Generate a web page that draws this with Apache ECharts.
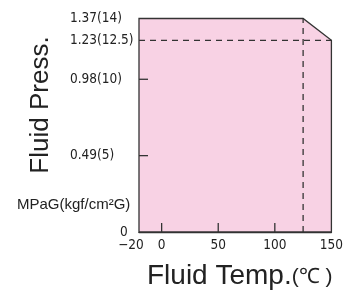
<!DOCTYPE html>
<html>
<head>
<meta charset="utf-8">
<script src="https://cdn.jsdelivr.net/npm/echarts@6/dist/echarts.min.js"></script>
<style>
  html, body { margin: 0; padding: 0; background: #fff; }
  #chart { width: 346px; height: 291px; }
</style>
</head>
<body>
<div id="chart"></div>
<script>
// operating range (temp in C, pressure in MPaG)
var envelope = [[-20, 0], [-20, 1.37], [125, 1.37], [150, 1.23], [150, 0]];
var ratedTemp = 125;
var ratedPress = 1.23;

var tempTicks = [-20, 0, 50, 100, 150];
var tempLabels = ['−20', '0', '50', '100', '150'];
var tempMarks = [0, 50, 100];
var pressTicks = [0, 0.49, 0.98, 1.23, 1.37];
var pressLabels = ['0', '0.49(5)', '0.98(10)', '1.23(12.5)', '1.37(14)'];
var pressMarks = [0.49, 0.98];

var tickFont = '"DejaVu Sans Condensed", "Liberation Sans Narrow", sans-serif';
var titleFont = '"Liberation Sans", Arial, sans-serif';
var ink = '#333';

var myChart = echarts.init(document.getElementById('chart'));

var option = {
  animation: false,
  grid: { left: 139, right: 14, top: 18.5, bottom: 59 },
  xAxis: {
    type: 'value',
    min: -20,
    max: 150,
    splitLine: { show: false },
    axisLine: { show: true, onZero: false, lineStyle: { color: ink, width: 1.3 } },
    axisTick: { show: false },
    axisLabel: {
      customValues: tempTicks,
      margin: 6,
      color: '#222',
      fontSize: 13.5,
      fontFamily: tickFont,
      formatter: function (v) {
        var t = tempLabels[tempTicks.indexOf(v)];
        return v === -20 ? '{neg|' + t + '}' : t;
      },
      rich: {
        neg: { padding: [0, 16, 0, 0], fontSize: 13.5, fontFamily: tickFont, color: '#222' }
      }
    }
  },
  yAxis: {
    type: 'value',
    min: 0,
    max: 1.37,
    splitLine: { show: false },
    axisLine: { show: false, onZero: false },
    axisTick: { show: false },
    axisLabel: {
      customValues: pressTicks,
      align: 'left',
      margin: 69,
      color: '#222',
      fontSize: 13.5,
      fontFamily: tickFont,
      formatter: function (v) {
        var t = pressLabels[pressTicks.indexOf(v)];
        return v === 0 ? '{z|' + t + '}' : t;
      },
      rich: {
        z: { padding: [0, 0, 0, 50], fontSize: 13.5, fontFamily: tickFont, color: '#222' }
      }
    }
  },
  series: [
    {
      type: 'custom',
      silent: true,
      z: 1,
      data: [0],
      renderItem: function (params, api) {
        var pts = envelope.map(function (p) { return api.coord(p); });
        return {
          type: 'polygon',
          shape: { points: pts },
          style: { fill: '#f8d2e4', stroke: ink, lineWidth: 1.3 }
        };
      }
    },
    {
      type: 'line',
      silent: true,
      symbol: 'none',
      z: 3,
      data: [[-20, ratedPress], [150, ratedPress]],
      lineStyle: { color: ink, width: 1.3, type: [6, 5] }
    },
    {
      type: 'line',
      silent: true,
      symbol: 'none',
      z: 3,
      data: [[ratedTemp, 0], [ratedTemp, 1.37]],
      lineStyle: { color: ink, width: 1.3, type: [6, 5] }
    },
    {
      // inward ticks on both axes
      type: 'custom',
      silent: true,
      z: 10,
      clip: false,
      data: [0],
      renderItem: function (params, api) {
        var kids = [];
        tempMarks.forEach(function (t) {
          var p = api.coord([t, 0]);
          kids.push({ type: 'line', shape: { x1: p[0], y1: p[1], x2: p[0], y2: p[1] - 9 }, style: { stroke: ink, lineWidth: 1.3 } });
        });
        pressMarks.forEach(function (v) {
          var p = api.coord([-20, v]);
          kids.push({ type: 'line', shape: { x1: p[0], y1: p[1], x2: p[0] + 9, y2: p[1] }, style: { stroke: ink, lineWidth: 1.3 } });
        });
        return { type: 'group', children: kids };
      }
    }
  ],
  graphic: [
    {
      type: 'text',
      left: 17,
      top: 197,
      style: {
        text: 'MPaG(kgf/cm²G)',
        font: '15px ' + titleFont,
        fill: '#222'
      }
    },
    {
      type: 'text',
      x: 41,
      y: 105,
      rotation: Math.PI / 2,
      style: {
        text: 'Fluid Press.',
        font: '26px ' + titleFont,
        fill: '#222',
        align: 'center',
        verticalAlign: 'middle'
      }
    },
    {
      type: 'text',
      left: 147,
      top: 262,
      style: {
        text: '{a|Fluid Temp.}{b|(℃ )}',
        rich: {
          a: { font: '28px ' + titleFont, fill: '#222' },
          b: { font: '21px ' + titleFont, fill: '#222', padding: [3, 0, 0, 0] }
        }
      }
    }
  ]
};

myChart.setOption(option);
</script>
</body>
</html>
